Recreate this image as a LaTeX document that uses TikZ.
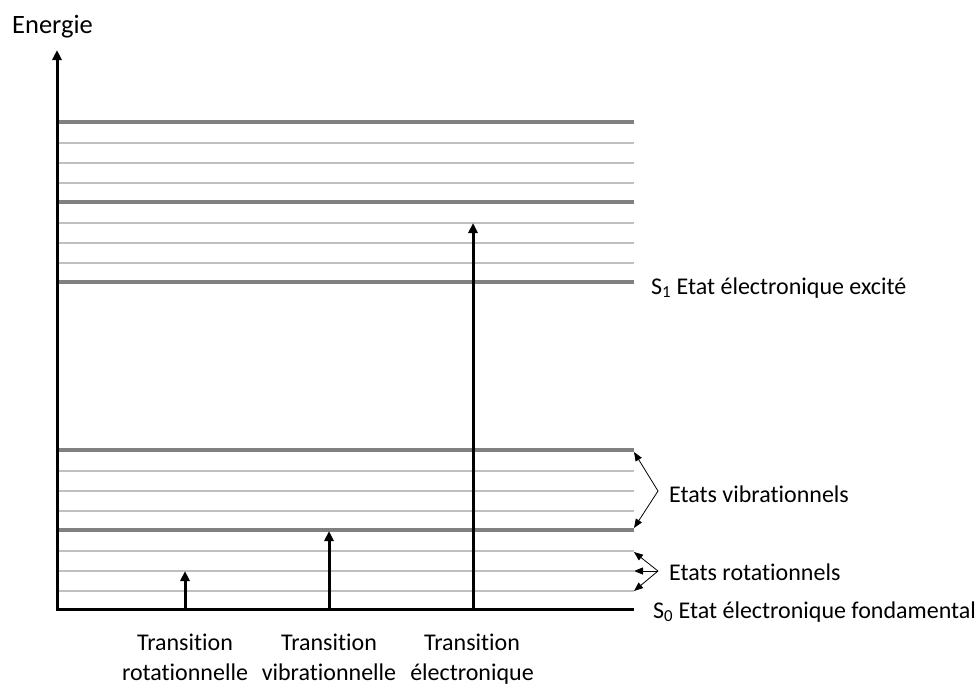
\documentclass[tikz,border=0pt]{standalone}
\usepackage{fontspec}
\setmainfont{Carlito}[Ligatures=NoCommon]
\usetikzlibrary{arrows.meta}
\definecolor{darklvl}{HTML}{808080}
\definecolor{lightlvl}{HTML}{BFBFBF}
\begin{document}
\begin{tikzpicture}[x=1pt,y=-1pt,
  axisline/.style={line width=3pt,black},
  darklevel/.style={line width=3.5pt,darklvl},
  lightlevel/.style={line width=2.5pt,lightlvl},
  transarrow/.style={line width=3pt,-{Triangle[length=10pt,width=9pt]}},
  thinarrow/.style={line width=0.8pt,-{Triangle[length=9pt,width=7pt]}},
  lbl/.style={font=\fontsize{24}{29.5}\selectfont,inner sep=0pt},
]
\useasboundingbox (0,0) rectangle (976,686);
% axes
\coordinate (origin) at (57,609);
\coordinate (ytop) at (57,50);
\coordinate (xend) at (634,609);
\draw[line width=3pt,-{Triangle[length=10pt,width=9pt]}] (origin) -- (ytop);
\draw[axisline] (55.5,609) -- (xend);
% upper levels (S1)
\foreach \y/\s in {122/darklevel,143/lightlevel,163/lightlevel,183/lightlevel,202/darklevel,223/lightlevel,243/lightlevel,263/lightlevel,282/darklevel}{
  \draw[\s] (58.5,\y) -- (634,\y);
}
% lower levels (S0)
\foreach \y/\s in {450/darklevel,471/lightlevel,491/lightlevel,511/lightlevel,530/darklevel,551/lightlevel,571/lightlevel,591/lightlevel}{
  \draw[\s] (58.5,\y) -- (634,\y);
}
% transitions
\coordinate (rotfrom) at (185,609);
\coordinate (rotto) at (185,571);
\coordinate (vibfrom) at (329,609);
\coordinate (vibto) at (329,531);
\coordinate (elfrom) at (473,609);
\coordinate (elto) at (473,223);
\draw[transarrow] (rotfrom) -- (rotto);
\draw[transarrow] (vibfrom) -- (vibto);
\draw[transarrow] (elfrom) -- (elto);
% brackets
\coordinate (vibapex) at (658,491);
\coordinate (vibtop) at (634,452);
\coordinate (vibbot) at (634,528);
\draw[thinarrow] (vibapex) -- (vibtop);
\draw[thinarrow] (vibapex) -- (vibbot);
\coordinate (rotapex) at (658,571);
\coordinate (rot1) at (634,552);
\coordinate (rot2) at (634,571);
\coordinate (rot3) at (634,591);
\draw[thinarrow] (rotapex) -- (rot1);
\draw[thinarrow] (rotapex) -- (rot2);
\draw[thinarrow] (rotapex) -- (rot3);
% labels
\node[inner sep=0pt,font=\fontsize{26.5}{30}\selectfont,anchor=base west] (energie) at (12,33) {Energie};
\node[lbl,anchor=base west] (s1) at (651,294) {S\textsubscript{1} Etat électronique excité};
\node[lbl,anchor=base west] (s0) at (653,618) {S\textsubscript{0} Etat électronique fondamental};
\node[lbl,anchor=base west] (vib) at (669,502) {Etats vibrationnels};
\node[lbl,anchor=base west] (rot) at (669,580) {Etats rotationnels};
\node[lbl,align=center,anchor=north] (trot) at (185,630) {\strut Transition\\rotationnelle\strut};
\node[lbl,align=center,anchor=north] (tvib) at (329,630) {\strut Transition\\vibrationnelle\strut};
\node[lbl,align=center,anchor=north] (tel) at (472,630) {\strut Transition\\électronique\strut};
\end{tikzpicture}
\end{document}
